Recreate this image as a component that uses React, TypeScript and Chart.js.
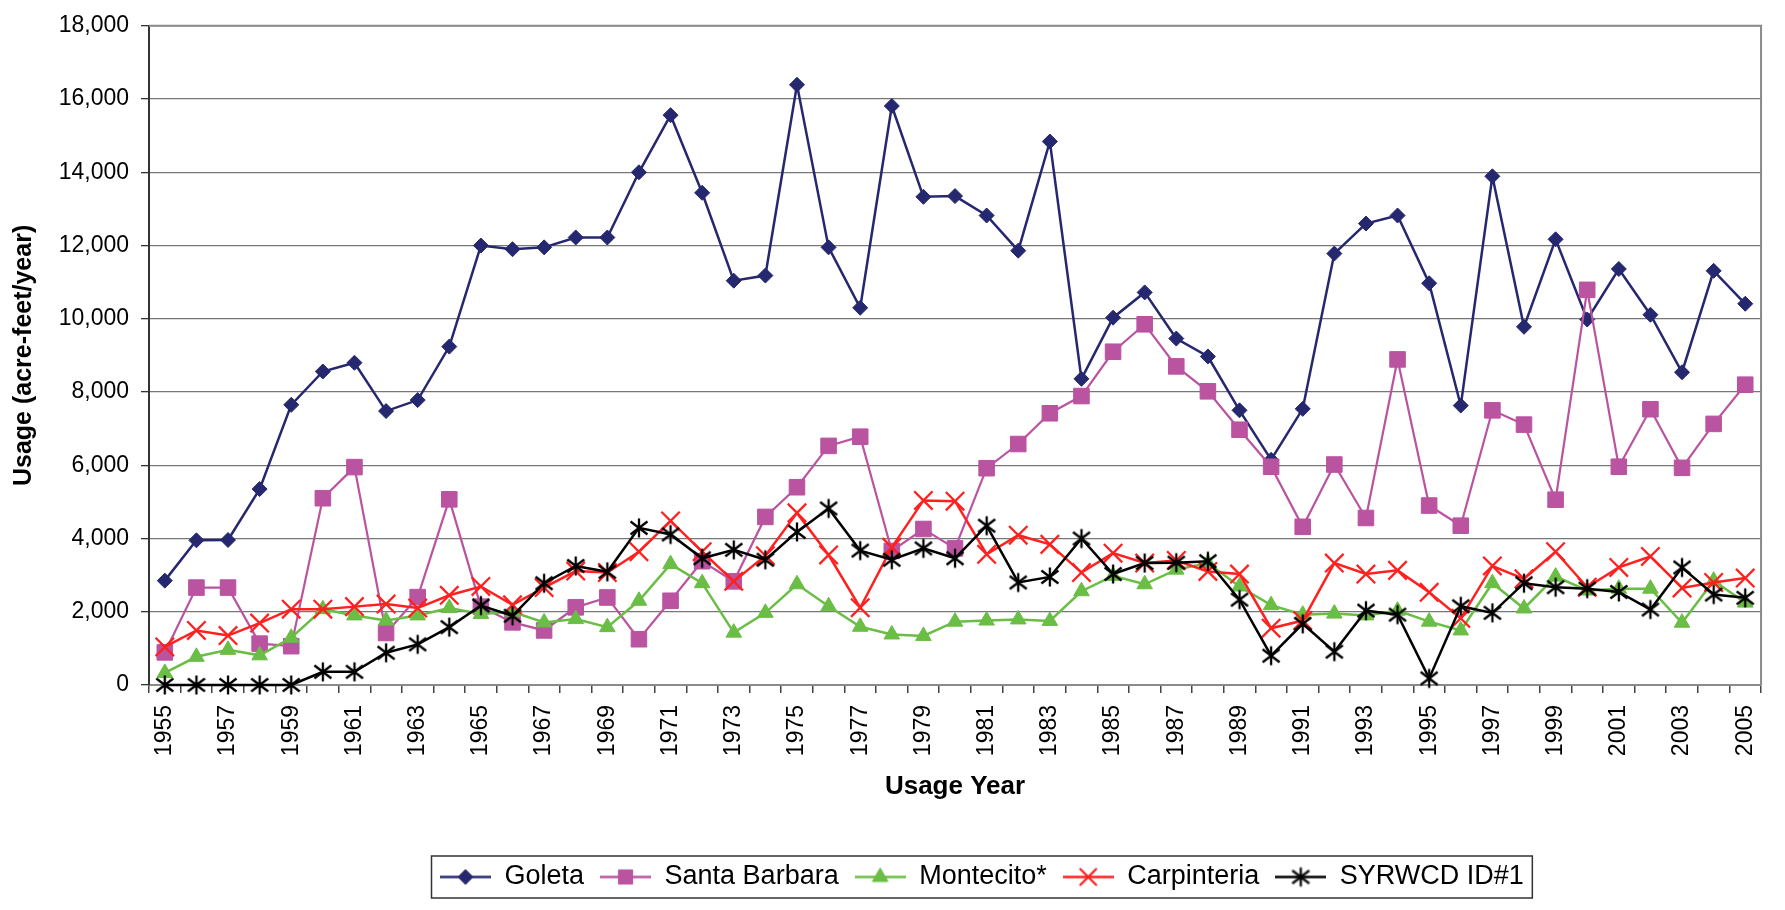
import React, { useEffect, useRef } from "react";
import { Chart, registerables } from "chart.js";
import { drawPoint } from "chart.js/helpers";

Chart.register(...registerables);

const years = [
  "1955", "1956", "1957", "1958", "1959", "1960", "1961", "1962", "1963", "1964",
  "1965", "1966", "1967", "1968", "1969", "1970", "1971", "1972", "1973", "1974",
  "1975", "1976", "1977", "1978", "1979", "1980", "1981", "1982", "1983", "1984",
  "1985", "1986", "1987", "1988", "1989", "1990", "1991", "1992", "1993", "1994",
  "1995", "1996", "1997", "1998", "1999", "2000", "2001", "2002", "2003", "2004",
  "2005",
];

const goleta = [
  2850, 3950, 3960, 5350, 7650, 8560, 8800, 7480, 7780, 9240,
  12000, 11900, 11950, 12220, 12220, 14000, 15560, 13440, 11040, 11180,
  16390, 11950, 10300, 15810, 13330, 13350, 12820, 11860, 14840, 8360,
  10030, 10720, 9460, 8970, 7500, 6150, 7540, 11780, 12600, 12820,
  10970, 7630, 13890, 9780, 12170, 9980, 11360, 10110, 8540, 11310,
  10410,
];

const santaBarbara = [
  890, 2660, 2660, 1130, 1060, 5100, 5950, 1420, 2400, 5070,
  2140, 1710, 1490, 2120, 2390, 1250, 2300, 3380, 2830, 4590,
  5400, 6530, 6780, 3660, 4260, 3730, 5920, 6580, 7420, 7890,
  9100, 9850, 8700, 8020, 6970, 5960, 4320, 6020, 4560, 8890,
  4900, 4350, 7500, 7110, 5060, 10790, 5960, 7530, 5930, 7130,
  8200,
];

const montecito = [
  330, 770, 960, 810, 1290, 2070, 1900, 1760, 1900, 2100,
  1940, 2000, 1710, 1800, 1580, 2300, 3300, 2780, 1430, 1970,
  2750, 2150, 1590, 1380, 1340, 1730, 1760, 1790, 1750, 2560,
  2980, 2750, 3150, 3330, 2690, 2180, 1920, 1950, 1900, 2030,
  1730, 1490, 2780, 2090, 2960, 2580, 2630, 2630, 1700, 2850,
  2250,
];

const carpinteria = [
  1040, 1490, 1350, 1690, 2070, 2070, 2140, 2210, 2100, 2450,
  2690, 2190, 2660, 3110, 3070, 3640, 4480, 3640, 2830, 3530,
  4700, 3550, 2110, 3760, 5040, 5020, 3570, 4090, 3840, 3070,
  3600, 3330, 3400, 3100, 3030, 1550, 1760, 3330, 3030, 3130,
  2530, 1820, 3250, 2900, 3640, 2670, 3210, 3510, 2650, 2800,
  2920,
];

const syrwcd = [
  0, 0, 0, 0, 0, 360, 360, 880, 1110, 1580,
  2170, 1890, 2780, 3250, 3090, 4290, 4110, 3460, 3690, 3420,
  4180, 4820, 3670, 3420, 3730, 3460, 4350, 2800, 2950, 4000,
  3030, 3330, 3340, 3380, 2330, 800, 1670, 910, 2030, 1920,
  180, 2150, 1970, 2780, 2670, 2630, 2540, 2060, 3210, 2470,
  2380,
];

const seriesNames = ["Goleta", "Santa Barbara", "Montecito*", "Carpinteria", "SYRWCD ID#1"];
const seriesColors = ["#25276F", "#BA53A0", "#6ABD45", "#FF2020", "#000000"];

const FONT = '"Liberation Sans", Arial, Helvetica, sans-serif';
const LEGEND_FONT = 27;
const LEGEND_PAD = 16;
const LEGEND_SAMPLE_W = 51;

function makeStar(color: string): HTMLCanvasElement {
  const size = 22;
  const c = document.createElement("canvas");
  c.width = size;
  c.height = size;
  const ctx = c.getContext("2d")!;
  ctx.strokeStyle = color;
  ctx.lineWidth = 2.3;
  const m = size / 2;
  ctx.beginPath();
  ctx.moveTo(m, m - 9.5);
  ctx.lineTo(m, m + 9.5);
  ctx.moveTo(m - 8.5, m - 6.5);
  ctx.lineTo(m + 8.5, m + 6.5);
  ctx.moveTo(m + 8.5, m - 6.5);
  ctx.lineTo(m - 8.5, m + 6.5);
  ctx.stroke();
  return c;
}

function makeLegendSample(color: string, style: any, radius: number, bw: number): HTMLCanvasElement {
  const w = LEGEND_SAMPLE_W;
  const h = 27;
  const c = document.createElement("canvas");
  c.width = w;
  c.height = h;
  const ctx = c.getContext("2d")!;
  ctx.strokeStyle = color;
  ctx.fillStyle = color;
  ctx.lineWidth = 2.5;
  ctx.beginPath();
  ctx.moveTo(0, h / 2);
  ctx.lineTo(w, h / 2);
  ctx.stroke();
  if (typeof style === "string") {
    ctx.lineWidth = bw;
    drawPoint(ctx, { pointStyle: style, rotation: 0, radius, borderWidth: bw } as any, w / 2, h / 2);
  } else {
    ctx.drawImage(style, w / 2 - style.width / 2, h / 2 - style.height / 2);
  }
  return c;
}

const plotFrame = {
  id: "plotFrame",
  afterLayout(chart: any) {
    const lg = chart.legend;
    if (!lg || !lg.lineWidths) return;
    const lw = lg.lineWidths[0];
    const start = (lg.left + LEGEND_PAD + lg.right - lw) / 2;
    const delta = 440 - start;
    lg.left += delta;
    lg.right += delta;
  },
  afterDraw(chart: any) {
    const { ctx, chartArea } = chart;
    ctx.save();
    ctx.strokeStyle = "#8A8A8A";
    ctx.lineWidth = 2;
    ctx.beginPath();
    ctx.moveTo(chartArea.left, chartArea.top);
    ctx.lineTo(chartArea.right, chartArea.top);
    ctx.lineTo(chartArea.right, chartArea.bottom);
    ctx.stroke();
    const lg = chart.legend;
    if (lg && lg.lineWidths) {
      const lw = lg.lineWidths[0];
      const start = (lg.left + LEGEND_PAD + lg.right - lw) / 2;
      const x0 = start - 8.5;
      const x1 = start + lw - LEGEND_PAD + 8.5;
      const y0 = lg.top + LEGEND_PAD - 7.5;
      const y1 = lg.top + LEGEND_PAD + LEGEND_FONT + 7.5;
      ctx.strokeStyle = "#333333";
      ctx.lineWidth = 1.5;
      ctx.strokeRect(x0, y0, x1 - x0, y1 - y0);
    }
    ctx.restore();
  },
};

export default function App() {
  const canvasRef = useRef<HTMLCanvasElement | null>(null);

  useEffect(() => {
    document.body.style.margin = "0";
    const canvas = canvasRef.current;
    if (!canvas) return;

    const star = makeStar("#000000");
    const styles: any[] = ["rectRot", "rect", "triangle", "crossRot", star];
    const radii = [7.5, 11, 9, 13, 9];
    const pbw = [1, 1, 1, 2.3, 1];
    const lineW = [2.5, 2.2, 2.5, 2.5, 2.5];
    const legendRadii = [7.5, 10, 9, 12, 9];
    const samples = seriesNames.map((_, i) =>
      makeLegendSample(seriesColors[i], styles[i], legendRadii[i], pbw[i])
    );
    const allData = [goleta, santaBarbara, montecito, carpinteria, syrwcd];

    Chart.defaults.font.family = FONT;

    const chart = new Chart(canvas, {
      type: "line",
      data: {
        labels: years,
        datasets: seriesNames.map((name, i) => ({
          label: name,
          data: allData[i],
          borderColor: seriesColors[i],
          backgroundColor: seriesColors[i],
          borderWidth: lineW[i],
          pointStyle: styles[i],
          pointRadius: radii[i],
          pointHoverRadius: radii[i],
          pointBorderWidth: pbw[i],
          pointBackgroundColor: seriesColors[i],
          pointBorderColor: seriesColors[i],
          tension: 0,
          fill: false,
          clip: false as any,
          order: 5 - i,
        })),
      },
      options: {
        responsive: false,
        animation: false,
        devicePixelRatio: 1,
        events: [],
        layout: { padding: { top: 20, right: 8, bottom: 9.5, left: 0 } },
        plugins: {
          tooltip: { enabled: false },
          legend: {
            position: "bottom",
            fullSize: false,
            labels: {
              usePointStyle: true,
              pointStyleWidth: LEGEND_SAMPLE_W,
              padding: LEGEND_PAD,
              color: "#000",
              font: { size: LEGEND_FONT, family: FONT },
              sort: (a: any, b: any) => a.datasetIndex - b.datasetIndex,
              generateLabels: (ch: any) => {
                const items = Chart.defaults.plugins.legend.labels.generateLabels(ch);
                return items.map((it: any) => ({
                  ...it,
                  pointStyle: samples[it.datasetIndex],
                  lineWidth: 0,
                }));
              },
            },
          },
        },
        scales: {
          x: {
            type: "category",
            offset: true,
            grid: {
              offset: true,
              drawOnChartArea: false,
              drawTicks: true,
              tickLength: 8,
              color: "#444",
              lineWidth: 1.5,
            },
            border: { display: true, color: "#8A8A8A", width: 2 },
            ticks: {
              autoSkip: false,
              maxRotation: 90,
              minRotation: 90,
              padding: 12,
              color: "#000",
              font: { size: 23, family: FONT },
              callback: (_v: any, i: number) => (i % 2 === 0 ? years[i] : ""),
            },
            title: {
              display: true,
              text: "Usage Year",
              color: "#000",
              font: { size: 26, weight: "bold", family: FONT },
              padding: { top: 0, bottom: 45 },
            },
            afterFit: (s: any) => {
              s.height = 162.5;
            },
          },
          y: {
            min: 0,
            max: 18000,
            ticks: {
              stepSize: 2000,
              padding: 12,
              color: "#000",
              font: { size: 23, family: FONT },
              callback: (v: any) => Number(v).toLocaleString("en-US"),
            },
            grid: {
              color: "#777",
              lineWidth: 1.3,
              tickLength: 8,
              tickColor: "#333",
            },
            border: { display: true, color: "#333", width: 2 },
            title: {
              display: true,
              text: "Usage (acre-feet/year)",
              color: "#000",
              font: { size: 25, weight: "bold", family: FONT },
              padding: { top: 9, bottom: 0 },
            },
            afterFit: (s: any) => {
              s.width = 149;
            },
          },
        },
      } as any,
      plugins: [plotFrame],
    });

    return () => {
      chart.destroy();
    };
  }, []);

  return (
    <div style={{ width: 1785, height: 910 }}>
      <canvas ref={canvasRef} width={1785} height={910} style={{ display: "block" }} />
    </div>
  );
}
